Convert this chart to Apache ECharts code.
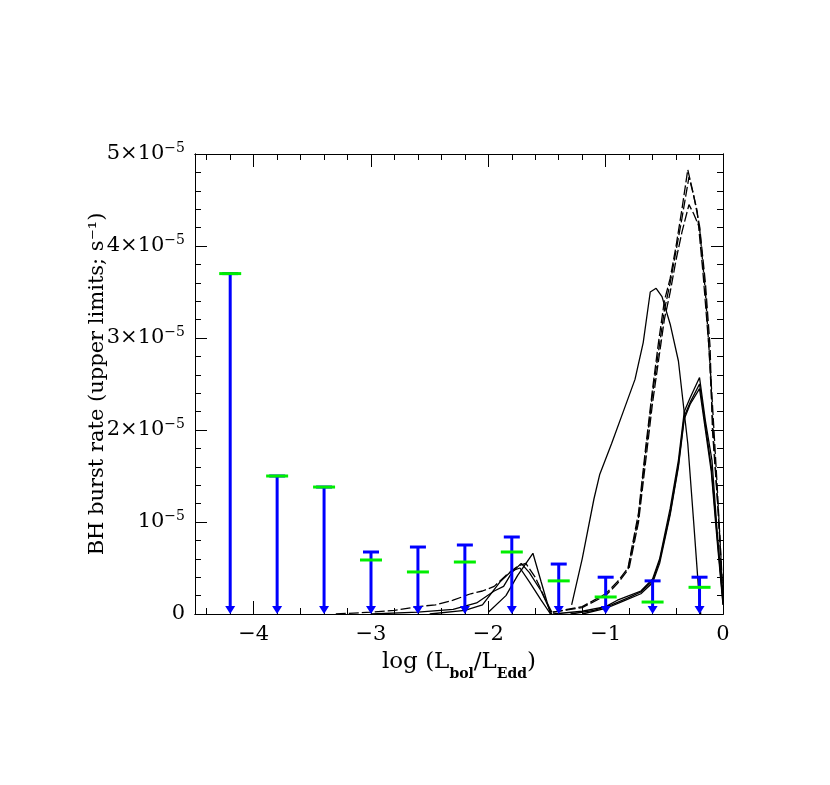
<!DOCTYPE html>
<html lang="en">
<head>
    <meta charset="utf-8">
    <script src="https://cdn.jsdelivr.net/npm/echarts@6.0.0/dist/echarts.min.js"></script>
    <style>
        html, body { margin: 0; padding: 0; background: #fff; }
        #chart { width: 830px; height: 785px; }
    </style>
</head>
<body>
<div id="chart"></div>

<script type="text/javascript">
    // y values are in units of 1e-5 s^-1
    var barX = [-4.2, -3.8, -3.4, -3.0, -2.6, -2.2, -1.8, -1.4, -1.0, -0.6, -0.2];
    var upperLimit = [3.70, 1.50, 1.38, 0.674, 0.728, 0.75, 0.837, 0.543, 0.40, 0.36, 0.40];
    var greenLevel = [3.70, 1.50, 1.38, 0.587, 0.457, 0.565, 0.674, 0.36, 0.185, 0.13, 0.29];

    var xMajor = [-4, -3, -2, -1, 0];
    var xMinor = [-4.4, -4.2, -3.8, -3.6, -3.4, -3.2, -2.8, -2.6, -2.4, -2.2, -1.8, -1.6, -1.4, -1.2, -0.8, -0.6, -0.4, -0.2];
    var yMajor = [0, 1, 2, 3, 4, 5];
    var yMinor = [0.2, 0.4, 0.6, 0.8, 1.2, 1.4, 1.6, 1.8, 2.2, 2.4, 2.6, 2.8, 3.2, 3.4, 3.6, 3.8, 4.2, 4.4, 4.6, 4.8];

    // model curves
    var curveA = [[-1.29, 0.1], [-1.2, 0.6], [-1.1, 1.25], [-1.05, 1.52], [-0.95, 1.85], [-0.85, 2.2], [-0.75, 2.55],
        [-0.68, 2.95], [-0.62, 3.5], [-0.57, 3.54], [-0.52, 3.45], [-0.45, 3.15], [-0.38, 2.75], [-0.3, 1.85],
        [-0.25, 1.0], [-0.21, 0.3], [-0.19, 0]];
    var curveB1 = [[-1.45, 0.02], [-1.2, 0.08], [-1.0, 0.22], [-0.9, 0.35], [-0.81, 0.5], [-0.72, 1.1], [-0.66, 1.8],
        [-0.6, 2.45], [-0.55, 2.95], [-0.5, 3.4], [-0.45, 3.65], [-0.4, 4.0], [-0.35, 4.4], [-0.3, 4.83],
        [-0.25, 4.55], [-0.2, 4.22], [-0.15, 3.6], [-0.11, 2.9], [-0.09, 2.0], [-0.04, 1.1], [0, 0.1]];
    var curveB2 = [[-1.45, 0.02], [-1.2, 0.07], [-1.0, 0.2], [-0.9, 0.33], [-0.81, 0.48], [-0.72, 1.05], [-0.66, 1.75],
        [-0.6, 2.4], [-0.55, 2.85], [-0.5, 3.3], [-0.45, 3.6], [-0.4, 3.95], [-0.35, 4.3], [-0.29, 4.75],
        [-0.26, 4.6], [-0.22, 4.38], [-0.17, 3.7], [-0.12, 2.9], [-0.08, 1.9], [-0.03, 0.9], [0, 0.15]];
    var curveB3 = [[-0.8, 0.5], [-0.72, 1.0], [-0.66, 1.65], [-0.6, 2.3], [-0.55, 2.75], [-0.5, 3.2], [-0.45, 3.5],
        [-0.4, 3.85], [-0.35, 4.15], [-0.29, 4.45], [-0.25, 4.35], [-0.2, 4.2], [-0.15, 3.5], [-0.1, 2.5],
        [-0.05, 1.4], [0, 0.2]];
    var curveC1 = [[-1.45, 0.0], [-1.2, 0.03], [-1.0, 0.08], [-0.9, 0.15], [-0.8, 0.2], [-0.7, 0.25], [-0.6, 0.38],
        [-0.54, 0.6], [-0.45, 1.15], [-0.38, 1.67], [-0.33, 2.2], [-0.28, 2.35], [-0.2, 2.57], [-0.15, 2.1],
        [-0.094, 1.67], [-0.05, 0.9], [0, 0.15]];
    var curveC2 = [[-1.3, 0.0], [-1.1, 0.04], [-0.95, 0.1], [-0.8, 0.18], [-0.7, 0.24], [-0.6, 0.36],
        [-0.54, 0.58], [-0.45, 1.1], [-0.38, 1.62], [-0.33, 2.15], [-0.28, 2.3], [-0.2, 2.5], [-0.15, 2.05],
        [-0.1, 1.6], [-0.05, 0.85], [0, 0.12]];
    var curveC3 = [[-1.2, 0.0], [-1.0, 0.06], [-0.85, 0.14], [-0.7, 0.22], [-0.6, 0.34],
        [-0.54, 0.55], [-0.45, 1.08], [-0.38, 1.6], [-0.33, 2.12], [-0.28, 2.28], [-0.2, 2.45], [-0.15, 2.0],
        [-0.1, 1.55], [-0.05, 0.8], [0, 0.1]];
    var curveL1 = [[-3.3, 0.0], [-3.0, 0.02], [-2.8, 0.04], [-2.6, 0.08], [-2.45, 0.1], [-2.3, 0.15], [-2.15, 0.22],
        [-2.05, 0.25], [-1.95, 0.3], [-1.85, 0.42], [-1.75, 0.52], [-1.68, 0.55], [-1.6, 0.4], [-1.5, 0.12], [-1.45, 0.0]];
    var curveL2 = [[-3.0, 0.0], [-2.6, 0.02], [-2.3, 0.05], [-2.1, 0.12], [-1.95, 0.25], [-1.87, 0.3], [-1.8, 0.45],
        [-1.72, 0.55], [-1.65, 0.45], [-1.55, 0.25], [-1.46, 0.0]];
    var curveL3 = [[-2.5, 0.0], [-2.2, 0.04], [-2.05, 0.1], [-1.9, 0.35], [-1.8, 0.47], [-1.73, 0.5], [-1.65, 0.35],
        [-1.55, 0.15], [-1.47, 0.0]];
    var curveL4 = [[-2.0, 0.02], [-1.85, 0.2], [-1.75, 0.42], [-1.62, 0.66], [-1.55, 0.35], [-1.47, 0.0]];

    var solidCurves = [curveA, curveC1, curveC2, curveC3, curveL2, curveL3, curveL4];
    var dashedCurves = [curveB1, curveB2, curveB3, curveL1];

    var FONT = 'DejaVu Serif';

    function xAxisCopy(pos, values, len, labels) {
        return {
            type: 'value', min: -4.5, max: 0, position: pos,
            axisLine: {show: true, onZero: false, lineStyle: {color: '#000', width: 1}},
            axisTick: {show: true, inside: true, length: len, customValues: values, lineStyle: {color: '#000', width: 1}},
            axisLabel: {
                show: labels, customValues: xMajor, margin: 10,
                color: '#000', fontFamily: FONT, fontSize: 21,
                formatter: function (v) { return v < 0 ? '\u2212' + Math.abs(v) : String(v); }
            },
            splitLine: {show: false}
        };
    }

    function yAxisCopy(pos, values, len, labels) {
        return {
            type: 'value', min: 0, max: 5, position: pos,
            axisLine: {show: true, onZero: false, lineStyle: {color: '#000', width: 1}},
            axisTick: {show: true, inside: true, length: len, customValues: values, lineStyle: {color: '#000', width: 1}},
            axisLabel: {
                show: labels, customValues: yMajor, margin: 10,
                color: '#000', fontFamily: FONT,
                formatter: function (v) {
                    if (v === 0) return '{b|0}';
                    if (v === 1) return '{b|10}{s|\u22125}';
                    return '{b|' + v + '\u00d710}{s|\u22125}';
                },
                rich: {
                    b: {fontFamily: FONT, fontSize: 21, color: '#000', lineHeight: 26},
                    s: {fontFamily: FONT, fontSize: 14, color: '#000', verticalAlign: 'top', lineHeight: 14}
                }
            },
            splitLine: {show: false}
        };
    }

    var chart = echarts.init(document.getElementById('chart'));

    var series = [];
    solidCurves.forEach(function (c) {
        series.push({
            type: 'line', data: c, showSymbol: false, symbol: 'none', smooth: false,
            xAxisIndex: 0, yAxisIndex: 0, z: 2, silent: true,
            lineStyle: {color: '#000', width: 1.3}
        });
    });
    dashedCurves.forEach(function (c) {
        series.push({
            type: 'line', data: c, showSymbol: false, symbol: 'none', smooth: false,
            xAxisIndex: 0, yAxisIndex: 0, z: 2, silent: true,
            lineStyle: {color: '#000', width: 1.3, type: [10, 3]}
        });
    });

    // upper limits: blue bar with cap and down arrow, green level mark
    series.push({
        type: 'custom', xAxisIndex: 0, yAxisIndex: 0, z: 5, silent: true,
        data: barX.map(function (x, i) { return [x, upperLimit[i], greenLevel[i]]; }),
        renderItem: function (params, api) {
            var p0 = api.coord([api.value(0), 0]);
            var p1 = api.coord([api.value(0), api.value(1)]);
            var pg = api.coord([api.value(0), api.value(2)]);
            var blue = '#0000ff', green = '#00ee00';
            return {
                type: 'group',
                children: [
                    {type: 'line', shape: {x1: p1[0], y1: p1[1], x2: p0[0], y2: p0[1] - 6},
                        style: {stroke: blue, lineWidth: 3}},
                    {type: 'line', shape: {x1: p1[0] - 8, y1: p1[1], x2: p1[0] + 8, y2: p1[1]},
                        style: {stroke: blue, lineWidth: 3}},
                    {type: 'polygon', shape: {points: [[p0[0] - 5, p0[1] - 8], [p0[0] + 5, p0[1] - 8], [p0[0], p0[1]]]},
                        style: {fill: blue}},
                    {type: 'line', shape: {x1: pg[0] - 11, y1: pg[1], x2: pg[0] + 11, y2: pg[1]},
                        style: {stroke: green, lineWidth: 3}}
                ]
            };
        }
    });

    var xMain = xAxisCopy('bottom', xMajor, 13, true);
    xMain.name = '{n|log (L}{s|bol}{n|/L}{s|Edd}{n|)}';
    xMain.nameLocation = 'middle';
    xMain.nameGap = 37;
    xMain.nameMoveOverlap = false;
    xMain.nameTextStyle = {
        rich: {
            n: {fontFamily: FONT, fontSize: 23, color: '#000', lineHeight: 30, verticalAlign: 'top'},
            s: {fontFamily: FONT, fontSize: 14, fontWeight: 'bold', color: '#000', lineHeight: 14, verticalAlign: 'bottom'}
        }
    };

    var yMain = yAxisCopy('left', yMajor, 12, true);
    yMain.name = 'BH burst rate (upper limits; s\u207b\u00b9)';
    yMain.nameLocation = 'middle';
    yMain.nameGap = 87;
    yMain.nameMoveOverlap = false;
    yMain.nameTextStyle = {fontFamily: FONT, fontSize: 21, color: '#000'};

    var option = {
        backgroundColor: '#fff',
        animation: false,
        grid: {left: 195, right: 107, top: 154, bottom: 171, containLabel: false},
        xAxis: [
            xMain,
            xAxisCopy('bottom', xMinor, 6, false),
            xAxisCopy('top', xMajor, 13, false),
            xAxisCopy('top', xMinor, 6, false)
        ],
        yAxis: [
            yMain,
            yAxisCopy('left', yMinor, 6, false),
            yAxisCopy('right', yMajor, 12, false),
            yAxisCopy('right', yMinor, 6, false)
        ],
        series: series
    };

    chart.setOption(option);
</script>
</body>
</html>
